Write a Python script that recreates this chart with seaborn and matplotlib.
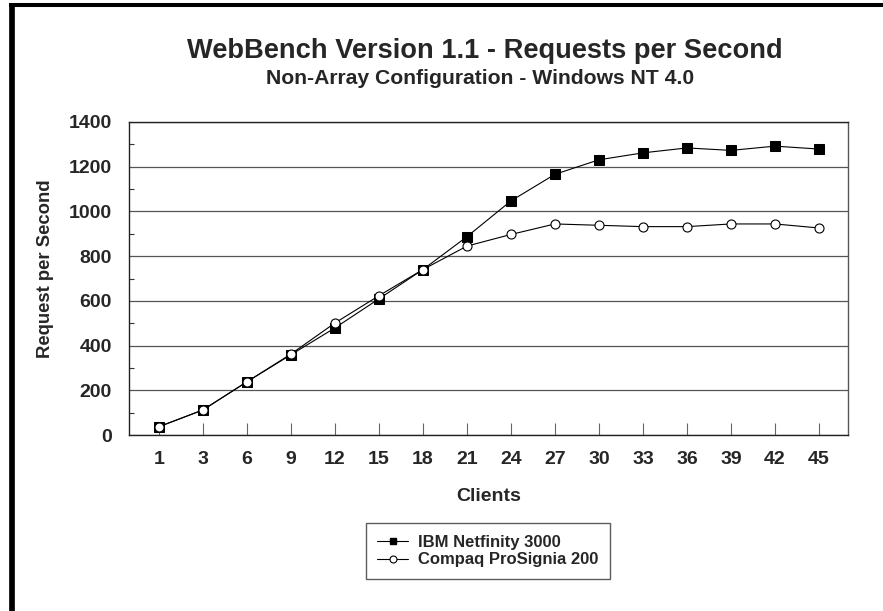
import pandas as pd
import matplotlib
matplotlib.use("Agg")
import matplotlib.pyplot as plt
import seaborn as sns
from matplotlib.lines import Line2D
from matplotlib.ticker import MultipleLocator

clients = ["1", "3", "6", "9", "12", "15", "18", "21", "24", "27", "30", "33", "36", "39", "42", "45"]
ibm = [37, 112, 238, 359, 479, 609, 740, 887, 1047, 1166, 1231, 1262, 1284, 1273, 1292, 1279]
compaq = [37, 112, 238, 362, 501, 623, 740, 845, 897, 944, 938, 932, 932, 944, 944, 926]
series = ["IBM Netfinity 3000", "Compaq ProSignia 200"]

sns.set_style("white")
plt.rcParams["font.family"] = ["Liberation Sans", "DejaVu Sans"]
plt.rcParams["font.weight"] = "bold"

W, H = 883, 611
fig = plt.figure(figsize=(W / 100, H / 100), dpi=100)
ax = fig.add_axes([129 / W, 1 - 435 / H, 719 / W, 313 / H])

df_ibm = pd.DataFrame({"clients": clients, "rps": ibm})
df_cpq = pd.DataFrame({"clients": clients, "rps": compaq})

sns.lineplot(data=df_ibm, x="clients", y="rps", ax=ax, color="black", lw=0.8,
             marker="s", ms=6.8, mfc="black", mec="black", sort=False)
sns.lineplot(data=df_cpq, x="clients", y="rps", ax=ax, color="black", lw=0.8,
             marker="o", ms=6.5, mfc="white", mec="black", mew=0.8, sort=False)

ax.set_ylim(0, 1400)
ax.set_xlim(-0.68, 15.66)
ax.yaxis.set_major_locator(MultipleLocator(200))
ax.yaxis.set_minor_locator(MultipleLocator(100))
ax.grid(axis="y", color="#555555", lw=0.9)
ax.set_axisbelow(True)
for name, s in ax.spines.items():
    s.set_color("#222222" if name in ("left", "top", "bottom") else "#555555")
    s.set_linewidth(1.0)

ax.tick_params(axis="y", which="major", direction="in", length=0, pad=12.2, labelsize=14)
ax.tick_params(axis="y", which="minor", direction="in", length=3.6, width=0.8, color="#333333", left=True)
ax.tick_params(axis="x", direction="in", length=8.6, width=0.8, color="#666666", bottom=True, pad=11.5, labelsize=14)
for t in ax.get_xticklabels() + ax.get_yticklabels():
    t.set_fontweight("bold")

ax.set_xlabel("Clients", fontsize=14, fontweight="bold")
ax.xaxis.set_label_coords(0.5, -0.169)
ax.set_ylabel("Request per Second", fontsize=13.3, fontweight="bold")
ax.yaxis.set_label_coords(-0.105, 0.530)

fig.text(485 / W, 1 - 58.3 / H, "WebBench Version 1.1 - Requests per Second",
         ha="center", va="baseline", fontsize=19.6, fontweight="bold")
fig.text(480 / W, 1 - 84.3 / H, "Non-Array Configuration - Windows NT 4.0",
         ha="center", va="baseline", fontsize=15.2, fontweight="bold")

handles = [
    Line2D([], [], color="black", lw=0.8, marker="s", ms=5, mfc="black", mec="black"),
    Line2D([], [], color="black", lw=0.8, marker="o", ms=5, mfc="white", mec="black", mew=0.8),
]
leg = ax.legend(handles, series, loc="center", bbox_to_anchor=(488 / W, 1 - 551.2 / H),
                bbox_transform=fig.transFigure, fontsize=12, frameon=True,
                fancybox=False, edgecolor="#333333", handlelength=1.85,
                handletextpad=0.62, labelspacing=0.15, borderpad=0.7)
leg.get_frame().set_linewidth(1.0)
for t in leg.get_texts():
    t.set_fontweight("bold")

# thick border along the left and top edges
fig.add_artist(Line2D([12.2 / W, 12.2 / W], [0, 1 - 3.3 / H], color="black", lw=4.1,
                      transform=fig.transFigure, solid_capstyle="butt"))
fig.add_artist(Line2D([9.3 / W, 1], [1 - 5.3 / H, 1 - 5.3 / H], color="black", lw=2.9,
                      transform=fig.transFigure, solid_capstyle="butt"))

fig.savefig("out.png", dpi=100)
